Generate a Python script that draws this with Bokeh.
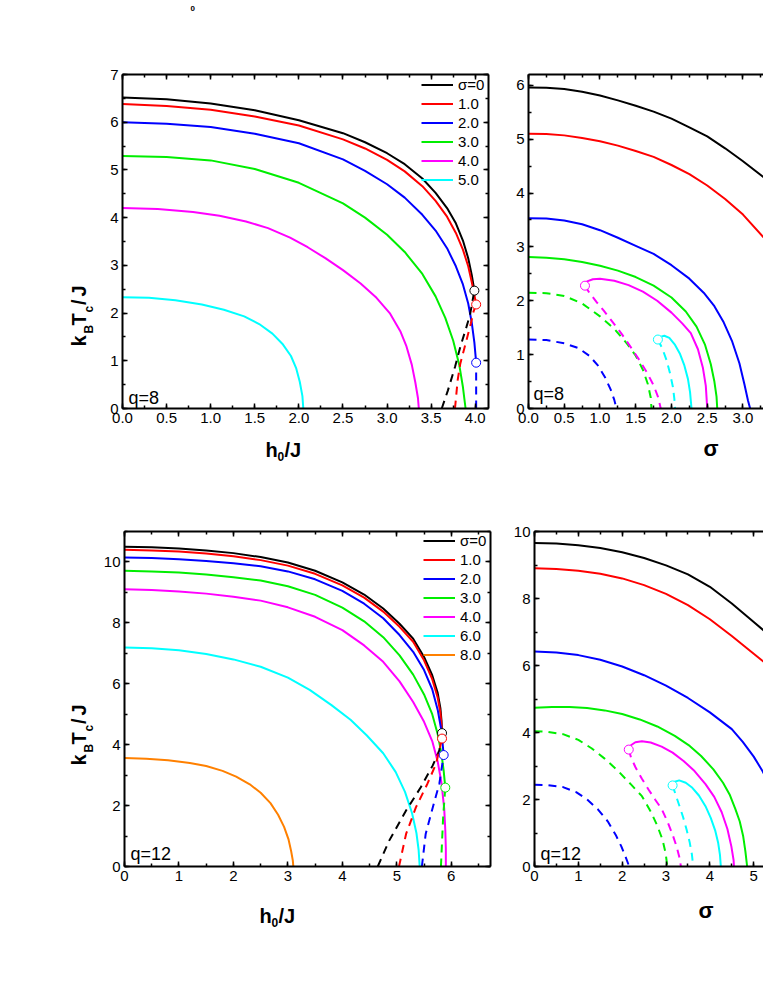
from bokeh.plotting import figure
from bokeh.models import (Range1d, LinearAxis, SingleIntervalTicker, NumeralTickFormatter,
                          Label, Legend, LegendItem, CustomLabelingPolicy)
from bokeh.layouts import column, row
from bokeh.embed import file_html
from bokeh.resources import INLINE

# ================= DATA =================
# --- panel A: q = 8, kBTc/J vs h0/J (solid = second order, dashed = first order) ---
A_legend = ["σ=0", "1.0", "2.0", "3.0", "4.0", "5.0"]
A_h0_s0 = [0, 0.5, 1.0, 1.5, 2.0, 2.5, 2.75, 3.0, 3.2, 3.4, 3.55, 3.68, 3.78, 3.86, 3.92, 3.96, 3.99]
A_T_s0 = [6.52, 6.48, 6.39, 6.25, 6.04, 5.77, 5.58, 5.35, 5.12, 4.82, 4.52, 4.2, 3.88, 3.52, 3.15, 2.8, 2.47]
A_h0_s1 = [0, 0.5, 1.0, 1.5, 2.0, 2.5, 2.75, 3.0, 3.2, 3.4, 3.55, 3.68, 3.78, 3.86, 3.92, 3.96, 3.99, 4.01]
A_T_s1 = [6.38, 6.34, 6.26, 6.12, 5.93, 5.64, 5.45, 5.21, 4.97, 4.66, 4.35, 4.02, 3.68, 3.33, 2.98, 2.65, 2.38, 2.18]
A_h0_s2 = [0, 0.5, 1.0, 1.5, 2.0, 2.5, 2.75, 3.0, 3.2, 3.4, 3.55, 3.68, 3.78, 3.86, 3.92, 3.96, 3.99, 4.01]
A_T_s2 = [6.0, 5.97, 5.9, 5.76, 5.56, 5.22, 4.98, 4.7, 4.42, 4.06, 3.73, 3.36, 2.98, 2.6, 2.2, 1.8, 1.38, 0.96]
A_h0_s3 = [0, 0.5, 1.0, 1.5, 2.0, 2.5, 2.75, 3.0, 3.2, 3.4, 3.55, 3.66, 3.75, 3.82, 3.86, 3.89]
A_T_s3 = [5.29, 5.27, 5.2, 5.02, 4.73, 4.3, 4.0, 3.64, 3.28, 2.82, 2.35, 1.9, 1.42, 0.9, 0.45, 0]
A_h0_s4 = [0, 0.4, 0.8, 1.1, 1.4, 1.65, 1.9, 2.1, 2.3, 2.5, 2.7, 2.88, 3.03, 3.15, 3.22, 3.28, 3.32, 3.35, 3.36]
A_T_s4 = [4.2, 4.18, 4.12, 4.04, 3.92, 3.78, 3.58, 3.38, 3.15, 2.9, 2.62, 2.32, 2.0, 1.62, 1.3, 0.92, 0.55, 0.22, 0]
A_h0_s5 = [0, 0.3, 0.6, 0.9, 1.15, 1.38, 1.55, 1.7, 1.82, 1.91, 1.97, 2.01, 2.04, 2.05]
A_T_s5 = [2.33, 2.32, 2.27, 2.18, 2.07, 1.93, 1.77, 1.57, 1.34, 1.1, 0.84, 0.56, 0.26, 0]
A_h0_d0 = [3.62, 3.69, 3.77, 3.83, 3.9, 3.94, 3.99]
A_T_d0 = [0, 0.38, 0.87, 1.29, 1.71, 1.96, 2.47]
A_h0_d1 = [3.77, 3.8, 3.83, 3.88, 3.92, 3.95, 3.98, 4.01]
A_T_d1 = [0, 0.59, 0.94, 1.29, 1.57, 1.78, 2.03, 2.18]
A_h0_d2 = [4.01, 4.01]
A_T_d2 = [0, 0.96]
A_tcp_h0 = [3.99, 4.01, 4.01]
A_tcp_T = [2.47, 2.18, 0.96]

# --- panel B: q = 8, kBTc/J vs sigma ---
B_sig_c0 = [0, 0.25, 0.5, 0.75, 1.0, 1.25, 1.5, 1.75, 2.0, 2.25, 2.5, 2.75, 3.0, 3.3]
B_T_c0 = [5.96, 5.955, 5.93, 5.88, 5.81, 5.72, 5.62, 5.51, 5.38, 5.22, 5.05, 4.83, 4.59, 4.28]
B_sig_c1 = [0, 0.25, 0.5, 0.75, 1.0, 1.25, 1.5, 1.75, 2.0, 2.25, 2.5, 2.75, 3.0, 3.3]
B_T_c1 = [5.1, 5.095, 5.07, 5.02, 4.96, 4.88, 4.78, 4.67, 4.52, 4.35, 4.14, 3.89, 3.6, 3.16]
B_sig_c2 = [0, 0.25, 0.5, 0.75, 1.0, 1.25, 1.5, 1.75, 2.0, 2.25, 2.45, 2.6, 2.73, 2.85, 2.95, 3.02, 3.07, 3.1]
B_T_c2 = [3.53, 3.525, 3.49, 3.42, 3.31, 3.17, 3.02, 2.87, 2.66, 2.41, 2.15, 1.9, 1.6, 1.24, 0.84, 0.45, 0.15, 0]
B_sig_c3 = [0, 0.25, 0.5, 0.75, 1.0, 1.25, 1.5, 1.75, 2.0, 2.2, 2.35, 2.47, 2.55, 2.6, 2.63, 2.64]
B_T_c3 = [2.81, 2.8, 2.77, 2.72, 2.65, 2.56, 2.44, 2.28, 2.06, 1.8, 1.52, 1.18, 0.82, 0.5, 0.22, 0]
B_sig_c4 = [0.79, 0.82, 0.9, 1.0, 1.2, 1.4, 1.6, 1.8, 2.0, 2.15, 2.27, 2.37, 2.44, 2.48, 2.5]
B_T_c4 = [2.28, 2.36, 2.4, 2.41, 2.37, 2.29, 2.17, 2.0, 1.78, 1.58, 1.4, 1.1, 0.75, 0.42, 0]
B_sig_c5 = [1.81, 1.84, 1.9, 1.97, 2.05, 2.12, 2.18, 2.23, 2.26, 2.28]
B_T_c5 = [1.28, 1.33, 1.35, 1.31, 1.18, 1.01, 0.8, 0.55, 0.3, 0]
B_sig_d2 = [0, 0.25, 0.5, 0.7, 0.85, 0.97, 1.07, 1.15, 1.2, 1.23]
B_T_d2 = [1.28, 1.27, 1.21, 1.12, 0.98, 0.8, 0.58, 0.35, 0.16, 0]
B_sig_d3 = [0, 0.25, 0.5, 0.75, 1.0, 1.2, 1.38, 1.5, 1.6, 1.67, 1.71, 1.72]
B_T_d3 = [2.15, 2.14, 2.09, 1.95, 1.71, 1.48, 1.2, 0.98, 0.72, 0.45, 0.2, 0]
B_sig_d4 = [0.79, 0.85, 0.95, 1.05, 1.15, 1.3, 1.43, 1.55, 1.66, 1.75, 1.81, 1.85]
B_T_d4 = [2.28, 2.15, 1.98, 1.82, 1.65, 1.39, 1.14, 0.9, 0.66, 0.43, 0.22, 0]
B_sig_d5 = [1.81, 1.87, 1.93, 1.98, 2.02, 2.04, 2.05]
B_T_d5 = [1.28, 1.12, 0.9, 0.65, 0.4, 0.18, 0]
B_tcp_sig = [0.79, 1.81]
B_tcp_T = [2.28, 1.28]

# --- panel C: q = 12, kBTc/J vs h0/J ---
C_legend = ["σ=0", "1.0", "2.0", "3.0", "4.0", "6.0", "8.0"]
C_h0_s0 = [0, 0.5, 1.0, 1.5, 2.0, 2.5, 3.0, 3.5, 4.0, 4.4, 4.75, 5.05, 5.3, 5.5, 5.65, 5.75, 5.8, 5.82, 5.83]
C_T_s0 = [10.5, 10.48, 10.44, 10.38, 10.29, 10.16, 9.98, 9.71, 9.33, 8.93, 8.47, 7.97, 7.48, 6.88, 6.28, 5.7, 5.2, 4.8, 4.38]
C_h0_s1 = [0, 0.5, 1.0, 1.5, 2.0, 2.5, 3.0, 3.5, 4.0, 4.4, 4.75, 5.05, 5.3, 5.5, 5.65, 5.75, 5.8, 5.82, 5.83]
C_T_s1 = [10.4, 10.38, 10.34, 10.28, 10.19, 10.06, 9.88, 9.61, 9.23, 8.83, 8.37, 7.87, 7.38, 6.77, 6.15, 5.55, 5.05, 4.65, 4.2]
C_h0_s2 = [0, 0.5, 1.0, 1.5, 2.0, 2.5, 3.0, 3.5, 4.0, 4.4, 4.75, 5.05, 5.3, 5.5, 5.65, 5.75, 5.82, 5.86]
C_T_s2 = [10.15, 10.13, 10.09, 10.03, 9.96, 9.86, 9.69, 9.43, 9.05, 8.63, 8.15, 7.6, 7.05, 6.45, 5.82, 5.15, 4.45, 3.66]
C_h0_s3 = [0, 0.5, 1.0, 1.5, 2.0, 2.5, 3.0, 3.5, 4.0, 4.4, 4.75, 5.05, 5.3, 5.5, 5.65, 5.75, 5.82, 5.86, 5.89]
C_T_s3 = [9.71, 9.69, 9.65, 9.59, 9.5, 9.39, 9.2, 8.92, 8.5, 8.05, 7.53, 6.93, 6.3, 5.65, 5.0, 4.35, 3.7, 3.15, 2.59]
C_h0_s4 = [0, 0.5, 1.0, 1.5, 2.0, 2.5, 3.0, 3.5, 4.0, 4.4, 4.75, 5.05, 5.3, 5.5, 5.65, 5.75, 5.82, 5.87, 5.89, 5.9, 5.9]
C_T_s4 = [9.1, 9.08, 9.03, 8.96, 8.86, 8.73, 8.51, 8.2, 7.76, 7.26, 6.72, 6.08, 5.4, 4.75, 4.12, 3.45, 2.75, 1.9, 1.2, 0.6, 0]
C_h0_s6 = [0, 0.5, 1.0, 1.5, 2.0, 2.5, 3.0, 3.4, 3.8, 4.15, 4.45, 4.75, 4.98, 5.15, 5.28, 5.36, 5.4, 5.42]
C_T_s6 = [7.19, 7.17, 7.1, 6.98, 6.8, 6.56, 6.2, 5.8, 5.3, 4.82, 4.3, 3.72, 3.1, 2.45, 1.75, 1.1, 0.55, 0]
C_h0_s8 = [0, 0.4, 0.8, 1.2, 1.5, 1.8, 2.05, 2.3, 2.5, 2.68, 2.82, 2.93, 3.01, 3.06, 3.09, 3.1]
C_T_s8 = [3.56, 3.54, 3.49, 3.4, 3.3, 3.14, 2.95, 2.7, 2.42, 2.08, 1.7, 1.3, 0.9, 0.5, 0.2, 0]
C_h0_d0 = [4.65, 4.86, 5.17, 5.44, 5.66, 5.78, 5.83]
C_T_d0 = [0, 0.85, 1.84, 2.6, 3.32, 3.81, 4.38]
C_h0_d1 = [5.04, 5.17, 5.35, 5.56, 5.72, 5.83]
C_T_d1 = [0, 1.07, 1.94, 2.71, 3.37, 4.2]
C_h0_d2 = [5.46, 5.53, 5.66, 5.78, 5.86]
C_T_d2 = [0, 1.07, 1.94, 2.71, 3.66]
C_h0_d3 = [5.81, 5.85, 5.89]
C_T_d3 = [0, 1.61, 2.59]
C_tcp_h0 = [5.83, 5.83, 5.86, 5.89]
C_tcp_T = [4.38, 4.2, 3.66, 2.59]

# --- panel D: q = 12, kBTc/J vs sigma ---
D_sig_c0 = [0, 0.5, 1.0, 1.5, 2.0, 2.5, 3.0, 3.5, 4.0, 4.5, 5.0, 5.36]
D_T_c0 = [9.66, 9.64, 9.59, 9.51, 9.38, 9.21, 8.99, 8.72, 8.35, 7.85, 7.3, 6.9]
D_sig_c1 = [0, 0.5, 1.0, 1.5, 2.0, 2.5, 3.0, 3.5, 4.0, 4.5, 5.0, 5.36]
D_T_c1 = [8.9, 8.88, 8.83, 8.74, 8.6, 8.4, 8.14, 7.8, 7.38, 6.88, 6.35, 5.97]
D_sig_c2 = [0, 0.5, 1.0, 1.5, 2.0, 2.5, 3.0, 3.5, 4.0, 4.5, 4.75, 5.0, 5.2, 5.36]
D_T_c2 = [6.42, 6.39, 6.31, 6.17, 5.97, 5.71, 5.4, 5.03, 4.6, 4.1, 3.72, 3.28, 2.85, 2.42]
D_sig_c3 = [0, 0.4, 0.8, 1.2, 1.6, 2.0, 2.4, 2.8, 3.2, 3.54, 3.8, 4.08, 4.3, 4.45, 4.58, 4.68, 4.76, 4.81, 4.85]
D_T_c3 = [4.74, 4.76, 4.76, 4.73, 4.66, 4.55, 4.39, 4.18, 3.9, 3.6, 3.3, 2.9, 2.5, 2.15, 1.72, 1.35, 0.9, 0.45, 0]
D_sig_c4 = [2.15, 2.2, 2.3, 2.45, 2.65, 2.9, 3.15, 3.4, 3.65, 3.9, 4.1, 4.27, 4.4, 4.49, 4.54, 4.55]
D_T_c4 = [3.49, 3.62, 3.71, 3.74, 3.7, 3.58, 3.4, 3.15, 2.85, 2.46, 2.08, 1.62, 1.12, 0.6, 0.2, 0]
D_sig_c5 = [3.15, 3.2, 3.3, 3.45, 3.6, 3.75, 3.9, 4.02, 4.12, 4.19, 4.23, 4.25]
D_T_c5 = [2.42, 2.53, 2.57, 2.5, 2.35, 2.12, 1.8, 1.45, 1.08, 0.7, 0.35, 0]
D_sig_d2 = [0, 0.3, 0.65, 0.95, 1.2, 1.45, 1.67, 1.85, 1.98, 2.08, 2.16]
D_T_d2 = [2.44, 2.43, 2.37, 2.22, 2.0, 1.7, 1.35, 0.95, 0.6, 0.28, 0]
D_sig_d3 = [0, 0.3, 0.65, 1.0, 1.3, 1.6, 1.9, 2.2, 2.45, 2.65, 2.8, 2.92, 2.99, 3.03]
D_T_d3 = [4.04, 4.02, 3.95, 3.78, 3.53, 3.22, 2.86, 2.45, 2.1, 1.64, 1.22, 0.8, 0.4, 0]
D_sig_d4 = [2.15, 2.2, 2.3, 2.45, 2.6, 2.75, 2.9, 3.03, 3.15, 3.24, 3.3, 3.34]
D_T_d4 = [3.49, 3.26, 2.97, 2.62, 2.3, 2.0, 1.72, 1.35, 0.95, 0.6, 0.3, 0]
D_sig_d5 = [3.15, 3.22, 3.3, 3.39, 3.47, 3.54, 3.59, 3.62]
D_T_d5 = [2.42, 2.14, 1.83, 1.47, 1.1, 0.72, 0.36, 0]
D_tcp_sig = [2.15, 3.15]
D_tcp_T = [3.49, 2.42]

# ================= STYLE =================
FONT = "Liberation Sans"
BLACK, RED, BLUE, GREEN = "#000000", "#ff0000", "#0000ff", "#00ee00"
MAGENTA, CYAN, ORANGE = "#ff00ff", "#00ffff", "#ff8000"
LW = 2
DASH = "8 6"
TICK_FS = "15px"
HIDE_LABELS = "for (const i of indices) indices.unset(i)"


def make_panel(xmax, ymax, xstep, ystep, xfmt, fw, fh, mbl, mbr, mbt, mbb, right_axis):
    p = figure(frame_width=fw, frame_height=fh,
               x_range=Range1d(0, xmax), y_range=Range1d(0, ymax),
               min_border_left=mbl, min_border_right=mbr,
               min_border_top=mbt, min_border_bottom=mbb,
               x_axis_location=None, y_axis_location=None, title=None,
               toolbar_location=None, output_backend="svg")
    p.outline_line_color = None
    p.grid.visible = False
    p.background_fill_color = "white"
    p.border_fill_color = "white"
    sides = [("below", True, xstep, xfmt), ("left", True, ystep, "0"),
             ("above", False, xstep, xfmt)]
    if right_axis:
        sides.append(("right", False, ystep, "0"))
    for side, labels, step, fmt in sides:
        ax = LinearAxis(ticker=SingleIntervalTicker(interval=step, num_minor_ticks=2),
                        formatter=NumeralTickFormatter(format=fmt))
        ax.axis_line_width = 2
        ax.axis_line_color = "black"
        ax.major_tick_in = 5
        ax.major_tick_out = 0
        ax.minor_tick_in = 3
        ax.minor_tick_out = 0
        ax.major_tick_line_width = 1.5
        ax.minor_tick_line_width = 1.5
        ax.major_tick_line_color = "black"
        ax.minor_tick_line_color = "black"
        ax.major_label_text_font = FONT
        ax.major_label_text_color = "black"
        ax.major_label_text_font_size = TICK_FS
        if labels:
            ax.major_label_standoff = 4
        else:
            ax.major_label_standoff = 0
            ax.major_label_policy = CustomLabelingPolicy(code=HIDE_LABELS)
        p.add_layout(ax, side)
    return p


def aux(w, h, x0, y0):
    # blank strip whose data coordinates are page pixels (y downwards)
    f = figure(frame_width=w, frame_height=h, x_range=Range1d(x0, x0 + w),
               y_range=Range1d(y0 + h, y0), min_border=0,
               x_axis_location=None, y_axis_location=None, title=None,
               toolbar_location=None, output_backend="svg")
    f.outline_line_color = None
    f.grid.visible = False
    return f


def txt(p, x, y, text, size, bold=False, angle=0.0, units="data"):
    p.add_layout(Label(x=x, y=y, x_units=units, y_units=units,
                       text=text, text_font=FONT, text_font_size=f"{size}px",
                       text_font_style="bold" if bold else "normal",
                       text_color="black", angle=angle,
                       text_align="left", text_baseline="alphabetic"))


def legend(p, renderers, labels, loc):
    items = [LegendItem(label=l, renderers=[r]) for l, r in zip(labels, renderers)]
    lg = Legend(items=items, location=loc, orientation="vertical",
                glyph_width=32, glyph_height=19, label_height=19, label_standoff=5,
                spacing=0, padding=0, margin=0, border_line_color=None,
                background_fill_alpha=0, label_text_font=FONT,
                label_text_font_size=TICK_FS, label_text_color="black")
    p.add_layout(lg)


def curves(p, solid, dashed, tcp, tcp_colors):
    rs = []
    for x, y, c in solid:
        rs.append(p.line(x, y, line_color=c, line_width=LW, line_join="round"))
    for x, y, c in dashed:
        p.line(x, y, line_color=c, line_width=LW, line_dash=DASH)
    p.scatter(tcp[0], tcp[1], marker="circle", size=9, fill_color="white",
              line_color=tcp_colors, line_width=1)
    return rs


# ---------- top strip (small subscript remnant of a label above the crop) ----------
top = aux(763, 16, 0, 0)
txt(top, 190, 8, "0", 8, True)

# ---------- panel A ----------
pA = make_panel(4.15, 7, 0.5, 1, "0.0", 366, 334, 22, 16, 58, 22, True)
rA = curves(pA,
            [(A_h0_s0, A_T_s0, BLACK), (A_h0_s1, A_T_s1, RED), (A_h0_s2, A_T_s2, BLUE),
             (A_h0_s3, A_T_s3, GREEN), (A_h0_s4, A_T_s4, MAGENTA), (A_h0_s5, A_T_s5, CYAN)],
            [(A_h0_d0, A_T_d0, BLACK), (A_h0_d1, A_T_d1, RED), (A_h0_d2, A_T_d2, BLUE)],
            (A_tcp_h0, A_tcp_T), [BLACK, RED, BLUE])
legend(pA, rA, A_legend, (299, 219))
txt(pA, 6, 11, "q=8", 18, units="screen")

# ---------- panel B ----------
pB = make_panel(3.287, 6.2, 0.5, 1, "0.0", 235, 334, 24, 0, 58, 22, False)
curves(pB,
       [(B_sig_c0, B_T_c0, BLACK), (B_sig_c1, B_T_c1, RED), (B_sig_c2, B_T_c2, BLUE),
        (B_sig_c3, B_T_c3, GREEN), (B_sig_c4, B_T_c4, MAGENTA), (B_sig_c5, B_T_c5, CYAN)],
       [(B_sig_d2, B_T_d2, BLUE), (B_sig_d3, B_T_d3, GREEN), (B_sig_d4, B_T_d4, MAGENTA),
        (B_sig_d5, B_T_d5, CYAN)],
       (B_tcp_sig, B_tcp_T), [MAGENTA, CYAN])
txt(pB, 5, 15, "q=8", 18, units="screen")

# ---------- panel C ----------
pC = make_panel(6.72, 11, 1, 2, "0", 366, 335, 22, 16, 20, 22, True)
rC = curves(pC,
            [(C_h0_s0, C_T_s0, BLACK), (C_h0_s1, C_T_s1, RED), (C_h0_s2, C_T_s2, BLUE),
             (C_h0_s3, C_T_s3, GREEN), (C_h0_s4, C_T_s4, MAGENTA), (C_h0_s6, C_T_s6, CYAN),
             (C_h0_s8, C_T_s8, ORANGE)],
            [(C_h0_d0, C_T_d0, BLACK), (C_h0_d1, C_T_d1, RED), (C_h0_d2, C_T_d2, BLUE),
             (C_h0_d3, C_T_d3, GREEN)],
            (C_tcp_h0, C_tcp_T), [BLACK, RED, BLUE, GREEN])
legend(pC, rC, C_legend, (299, 202))
txt(pC, 6, 13, "q=12", 18, units="screen")

# ---------- panel D ----------
pD = make_panel(5.36, 10, 1, 2, "0", 235, 335, 24, 0, 20, 22, False)
curves(pD,
       [(D_sig_c0, D_T_c0, BLACK), (D_sig_c1, D_T_c1, RED), (D_sig_c2, D_T_c2, BLUE),
        (D_sig_c3, D_T_c3, GREEN), (D_sig_c4, D_T_c4, MAGENTA), (D_sig_c5, D_T_c5, CYAN)],
       [(D_sig_d2, D_T_d2, BLUE), (D_sig_d3, D_T_d3, GREEN), (D_sig_d4, D_T_d4, MAGENTA),
        (D_sig_d5, D_T_d5, CYAN)],
       (D_tcp_sig, D_tcp_T), [MAGENTA, CYAN])
txt(pD, 6, 13, "q=12", 18, units="screen")

# ---------- axis-title strips (coordinates = page pixels) ----------
yA = aux(100, 414, 0, 16)
for ch, y, sz, xb in [("k", 288, 20, 78), ("B", 275, 12, 88), ("T", 267, 20, 78),
                      ("c", 254, 12, 88), ("/", 246.5, 20, 78), ("J", 238, 20, 78)]:
    txt(yA, xb, y, ch, sz, True, angle=1.5708)

xAB = aux(763, 81, 0, 430)
txt(xAB, 265, 449, "h", 20, True)
txt(xAB, 277, 456, "0", 12, True)
txt(xAB, 284, 449, "/J", 20, True)
txt(xAB, 703, 448, "σ", 22, True)

yC = aux(100, 377, 0, 511)
for ch, y, sz, xb in [("k", 745, 20, 78), ("B", 732, 12, 88), ("T", 724, 20, 78),
                      ("c", 711, 12, 88), ("/", 703.5, 20, 78), ("J", 695, 20, 78)]:
    txt(yC, xb, y, ch, sz, True, angle=1.5708)

xCD = aux(763, 60, 0, 888)
txt(xCD, 259, 915, "h", 20, True)
txt(xCD, 271, 922, "0", 12, True)
txt(xCD, 278, 915, "/J", 20, True)
txt(xCD, 698, 910, "σ", 22, True)

layout = column(top, row(yA, pA, pB), xAB, row(yC, pC, pD), xCD)
open("out.html", "w").write(file_html(layout, INLINE))
